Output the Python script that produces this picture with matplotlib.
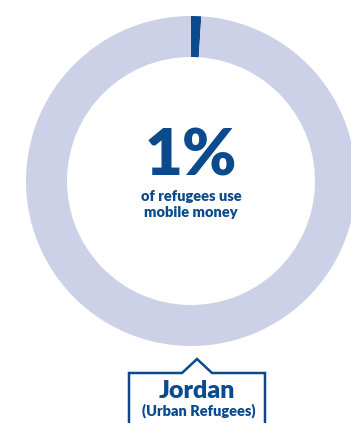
import matplotlib.pyplot as plt

# data
share_labels = ["use mobile money", "do not"]
share_values = [1, 99]
headline = "1%"
caption = ["of refugees use", "mobile money"]
country = "Jordan"
group = "(Urban Refugees)"

W, H = 351, 423
dark_blue = "#0b4a8d"
light_ring = "#cdd1e7"

fig = plt.figure(figsize=(W / 100, H / 100), dpi=100)
ax = fig.add_axes([0, 0, 1, 1])

# donut ring (pixel coords, y measured from the bottom)
cx, cy = 191, H - 181
ax.pie(share_values, colors=[dark_blue, light_ring], startangle=90,
       counterclock=False, center=(cx, cy), radius=165,
       wedgeprops=dict(width=41, linewidth=0))

ax.set_xlim(0, W)
ax.set_ylim(0, H)
ax.set_aspect("equal")
ax.axis("off")

font = ["Lato", "DejaVu Sans"]
ax.text(cx, H - 157, headline, ha="center", va="center", fontsize=47,
        fontweight="heavy", color=dark_blue, family=font)
for i, line in enumerate(caption):
    ax.text(cx, H - 196 - 16 * i, line, ha="center", va="center", fontsize=10.5,
            fontweight="heavy", color=dark_blue, family=font)

# label box with a little pointer
bx = [129, 129, 182, 197, 212, 265, 265]
by = [-5, H - 373, H - 373, H - 359, H - 373, H - 373, -5]
ax.plot(bx, by, color=dark_blue, lw=1.8, solid_joinstyle="miter", clip_on=False)

ax.text(197, H - 391, country, ha="center", va="center", fontsize=18,
        fontweight="heavy", color=dark_blue, family=font)
ax.text(199, H - 411, group, ha="center", va="center", fontsize=10.5,
        fontweight="heavy", color=dark_blue, family=font)

fig.savefig("out.png", dpi=100, facecolor="white")
